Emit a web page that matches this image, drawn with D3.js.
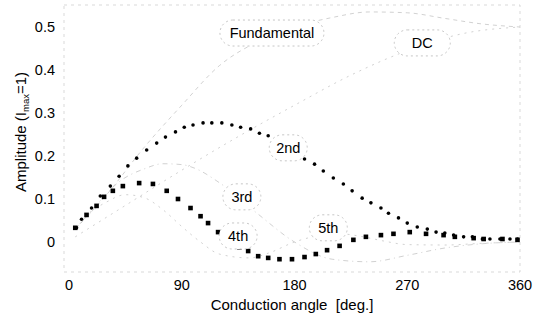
<!DOCTYPE html>
<html>
<head>
<meta charset="utf-8">
<script src="https://cdn.jsdelivr.net/npm/d3@7.9.0/dist/d3.min.js"></script>
<style>
  body { margin: 0; background: #fff; }
  svg { display: block; font-family: "Liberation Sans", Arial, sans-serif; }
</style>
</head>
<body>
<svg id="chart" width="545" height="318"></svg>
<script>
// conduction angle (deg) and amplitude
const degFund = [5, 30, 60, 90, 120, 150, 180, 210, 240, 270, 300, 330, 360];
const ampFund = [0.03, 0.11, 0.22, 0.318, 0.41, 0.465, 0.5, 0.522, 0.535, 0.533, 0.52, 0.507, 0.5];

const degDC = [5, 45, 90, 135, 180, 225, 270, 315, 360];
const ampDC = [0.012, 0.085, 0.167, 0.245, 0.318, 0.388, 0.445, 0.485, 0.5];

const deg2 = [6, 10, 18, 25, 33, 40, 47, 54, 62, 70, 77, 85, 92, 99, 107, 114, 122, 130, 137, 145,
  152, 159, 167, 175, 182, 188, 196, 203, 211, 219, 226, 234, 241, 249, 255, 263, 270, 278, 286, 293,
  300, 307, 315, 322, 330, 336, 344, 352, 358];
const amp2 = [0.033, 0.053, 0.079, 0.107, 0.130, 0.153, 0.177, 0.195, 0.214, 0.230, 0.244, 0.256, 0.267, 0.272, 0.277, 0.277, 0.277, 0.272, 0.267, 0.263,
  0.253, 0.247, 0.235, 0.221, 0.207, 0.193, 0.181, 0.165, 0.149, 0.135, 0.119, 0.102, 0.091, 0.079, 0.067, 0.056, 0.044, 0.035, 0.030, 0.023,
  0.021, 0.016, 0.012, 0.012, 0.007, 0.007, 0.007, 0.007, 0.007];

const deg3 = [5, 20, 40, 60, 75, 90, 100, 120, 150, 180, 210, 240, 270, 300, 330, 360];
const amp3 = [0.03, 0.08, 0.14, 0.17, 0.182, 0.18, 0.172, 0.138, 0.067, 0.0, -0.04, -0.046, -0.031, -0.014, -0.004, 0.0];

const deg4 = [5, 14, 22, 28, 35, 43, 56, 67, 78, 87, 97, 105, 111, 119, 128, 136, 143, 151, 159, 168,
  178, 188, 197, 206, 216, 227, 237, 249, 259, 272, 285, 299, 308, 323, 331, 346, 358];
const amp4 = [0.033, 0.063, 0.084, 0.105, 0.119, 0.130, 0.137, 0.135, 0.119, 0.100, 0.079, 0.060, 0.044, 0.023, 0.002, -0.012, -0.021, -0.033, -0.037, -0.040,
  -0.040, -0.035, -0.028, -0.019, -0.009, 0.005, 0.012, 0.016, 0.019, 0.023, 0.019, 0.016, 0.012, 0.009, 0.007, 0.007, 0.005];

const deg5 = [5, 20, 30, 45, 60, 75, 90, 105, 120, 144, 160, 180, 200, 216, 235, 250, 270, 300, 330, 360];
const amp5 = [0.03, 0.075, 0.093, 0.11, 0.103, 0.075, 0.036, 0.0, -0.028, -0.037, -0.025, 0.0, 0.015, 0.019, 0.012, 0.003, -0.006, -0.007, -0.003, 0.0];

const xTicks = [0, 90, 180, 270, 360];
const yTicks = [0, 0.1, 0.2, 0.3, 0.4, 0.5];

// callout labels: text, angle, amplitude, box width
const callouts = [
  ["Fundamental", 162, 0.486, 104],
  ["DC", 282, 0.463, 56],
  ["2nd", 175, 0.219, 38],
  ["3rd", 138, 0.105, 38],
  ["4th", 135, 0.014, 38],
  ["5th", 207, 0.033, 38]
];

const zip = (xs, ys) => xs.map((x, i) => [x, ys[i]]);

const svg = d3.select("#chart");
const x = d3.scaleLinear().domain([0, 360]).range([69, 520]);
const y = d3.scaleLinear().domain([0, 0.5]).range([242, 27]);

// faint scanned frame
svg.append("rect")
  .attr("x", 64).attr("y", 5).attr("width", 456).attr("height", 267)
  .attr("fill", "none").attr("stroke", "#cfcfcf").attr("stroke-width", 0.8)
  .attr("stroke-dasharray", "3,4");

// tick labels
svg.selectAll(".xt").data(xTicks).enter().append("text")
  .attr("x", d => x(d)).attr("y", 290)
  .attr("text-anchor", "middle").attr("font-size", 14.5).text(d => d);

svg.selectAll(".yt").data(yTicks).enter().append("text")
  .attr("x", 55).attr("y", d => y(d) + 5)
  .attr("text-anchor", "end").attr("font-size", 14.5)
  .text(d => d === 0 ? "0" : d3.format(".1f")(d));

// axis titles
svg.append("text")
  .attr("x", 292).attr("y", 310).attr("text-anchor", "middle")
  .attr("font-size", 15).attr("xml:space", "preserve")
  .text("Conduction angle  [deg.]");

const yTitle = svg.append("text")
  .attr("transform", "translate(26,132) rotate(-90)")
  .attr("text-anchor", "middle").attr("font-size", 15);
yTitle.append("tspan").text("Amplitude (I");
yTitle.append("tspan").attr("font-size", 9.5).attr("dy", 3).text("max");
yTitle.append("tspan").attr("dy", -3).text("=1)");

// faint lines (mostly lost in the scan)
const line = d3.line().x(d => x(d[0])).y(d => y(d[1])).curve(d3.curveMonotoneX);
const faint = [
  [zip(degFund, ampFund), "4,4"],
  [zip(degDC, ampDC), "2,5"],
  [zip(deg3, amp3), "5,4,1,4"],
  [zip(deg5, amp5), "2,5"]
];
svg.selectAll(".faint").data(faint).enter().append("path")
  .attr("d", d => line(d[0]))
  .attr("fill", "none").attr("stroke", "#bdbdbd").attr("stroke-width", 0.7)
  .attr("stroke-dasharray", d => d[1]);

// 2nd harmonic: round dots
svg.selectAll(".h2").data(zip(deg2, amp2)).enter().append("circle")
  .attr("cx", d => x(d[0])).attr("cy", d => y(d[1])).attr("r", 1.8)
  .attr("fill", "#000");

// 4th harmonic: squares
svg.selectAll(".h4").data(zip(deg4, amp4)).enter().append("rect")
  .attr("x", d => x(d[0]) - 2.3).attr("y", d => y(d[1]) - 2.3)
  .attr("width", 4.6).attr("height", 4.6).attr("fill", "#000");

// callouts
const co = svg.selectAll(".co").data(callouts).enter().append("g")
  .attr("transform", d => `translate(${x(d[1])},${y(d[2])})`);
co.append("rect")
  .attr("x", d => -d[3] / 2).attr("y", -13).attr("width", d => d[3]).attr("height", 26)
  .attr("rx", 13).attr("fill", "#fff")
  .attr("stroke", "#b8b8b8").attr("stroke-width", 0.8).attr("stroke-dasharray", "2,3");
co.append("text")
  .attr("y", 5).attr("text-anchor", "middle").attr("font-size", 14.5)
  .text(d => d[0]);
</script>
</body>
</html>
